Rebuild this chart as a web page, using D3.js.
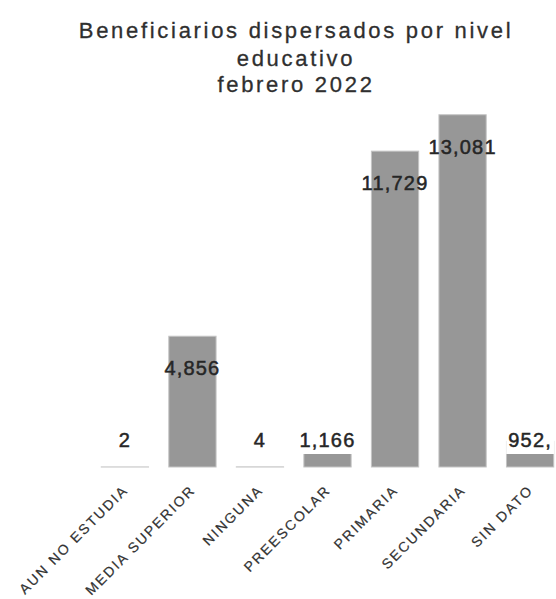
<!DOCTYPE html>
<html>
<head>
<meta charset="utf-8">
<script src="https://cdn.jsdelivr.net/npm/d3@7"></script>
<style>
  html, body { margin: 0; padding: 0; background: #fff; }
  svg { display: block; }
</style>
</head>
<body>
<svg id="chart" width="556" height="599"></svg>
<script>
const titleLines = ["Beneficiarios dispersados por nivel", "educativo", "febrero 2022"];
const categories = ["AUN NO ESTUDIA", "MEDIA SUPERIOR", "NINGUNA", "PREESCOLAR", "PRIMARIA", "SECUNDARIA", "SIN DATO"];
const values = [2, 4856, 4, 1166, 11729, 13081, 952];
const valueLabels = ["2", "4,856", "4", "1,166", "11,729", "13,081", "952,"];

const svg = d3.select("#chart");

const x = d3.scaleBand().domain(categories).range([81, 574]).paddingInner(0.3).paddingOuter(0.3);
const y = d3.scaleLinear().domain([0, 14000]).range([467, 90]);

// Title
const titleY = [38, 66, 92];
svg.append("text")
  .attr("text-anchor", "middle")
  .style("font-family", "'Liberation Sans', Arial, sans-serif")
  .style("font-size", "22px")
  .style("letter-spacing", "2.7px")
  .style("fill", "#2f2f2f")
  .style("stroke", "#2f2f2f")
  .style("stroke-width", "0.3px")
  .selectAll("tspan")
  .data(titleLines)
  .join("tspan")
  .attr("x", 296)
  .attr("y", (d, i) => titleY[i])
  .text(d => d);

// Bars
svg.append("g").selectAll("rect")
  .data(values)
  .join("rect")
  .attr("x", (d, i) => x(categories[i]))
  .attr("width", x.bandwidth())
  .attr("y", d => y(d))
  .attr("height", d => y(0) - y(d))
  .attr("fill", "#979797")
  .attr("stroke", "#c4c4c4")
  .attr("stroke-width", 1);

// Value labels
const lbl = svg.append("g");
values.forEach((v, i) => {
  const cy = Math.min(y(v) + 32, 440);
  const clamped = y(v) + 32 > 440;
  const g = lbl.append("g");
  const t = g.append("text")
    .attr("x", x(categories[i]) + x.bandwidth() / 2)
    .attr("y", cy + 7)
    .attr("text-anchor", "middle")
    .style("font-family", "'Liberation Sans', Arial, sans-serif")
    .style("font-size", "20px")
    .style("letter-spacing", "1.2px")
    .style("fill", "#262626")
    .style("stroke", "#262626")
    .style("stroke-width", "0.5px")
    .text(valueLabels[i]);
  if (clamped) {
    const bb = t.node().getBBox();
    g.insert("rect", "text")
      .attr("x", bb.x - 2).attr("y", bb.y - 1)
      .attr("width", bb.width + 4).attr("height", bb.height + 4)
      .attr("fill", "#fff");
  }
});

// X axis labels
const xAxis = svg.append("g")
  .attr("transform", "translate(0,472)")
  .call(d3.axisBottom(x).tickSize(0).tickPadding(0));
xAxis.select(".domain").remove();
xAxis.selectAll("text")
  .attr("text-anchor", "end")
  .attr("dy", "0")
  .attr("transform", "translate(4,19) rotate(-45)")
  .style("font-family", "'Liberation Sans', Arial, sans-serif")
  .style("font-size", "14px")
  .style("letter-spacing", "2px")
  .style("fill", "#333")
  .style("stroke", "#333")
  .style("stroke-width", "0.2px");
</script>
</body>
</html>
